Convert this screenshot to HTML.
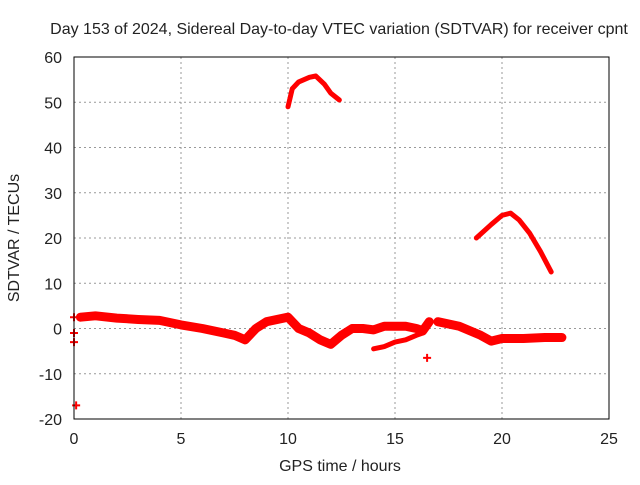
<!DOCTYPE html>
<html><head><meta charset="utf-8"><style>
body{margin:0;background:#fff;font-family:"Liberation Sans",sans-serif}
svg text{font-family:"Liberation Sans",sans-serif;font-size:16px;fill:#222}
</style></head><body>
<svg id="c" width="640" height="480">
<text x="339" y="34" text-anchor="middle">Day 153 of 2024, Sidereal Day-to-day VTEC variation (SDTVAR) for receiver cpnt</text>
<text x="340" y="471" text-anchor="middle">GPS time / hours</text>
<text transform="translate(19,238) rotate(-90)" text-anchor="middle">SDTVAR / TECUs</text>
<g id="grid"></g><g id="data"></g>
<rect x="74" y="57" width="535" height="362" fill="none" stroke="#000" stroke-width="1"/>
</svg>
<script>
const xTicks=[0,5,10,15,20,25];
const yTicks=[-20,-10,0,10,20,30,40,50,60];
const bandA=[[0.3,2.5],[1,2.8],[2,2.3],[3,2.0],[4,1.8],[5,0.8],[6,0],[7,-1],[7.5,-1.5],[8,-2.5],[8.5,0],[9,1.5],[9.5,2],[10,2.5],[10.5,0],[11,-1],[11.5,-2.5],[12,-3.5],[12.5,-1.5],[13,0],[13.5,0],[14,-0.3],[14.5,0.5],[15,0.5],[15.5,0.5],[16,0],[16.3,-0.5],[16.6,1.5]];
const bandB=[[17,1.5],[18,0.5],[19,-1.5],[19.5,-2.8],[20,-2.2],[21,-2.2],[22,-2],[22.8,-2]];
const lowBranch=[[14,-4.5],[14.5,-4],[15,-3],[15.5,-2.5],[16,-1.5],[16.3,-1]];
const peak1=[[10,49],[10.2,53],[10.5,54.5],[11,55.5],[11.3,55.8],[11.7,54],[12,52],[12.4,50.5]];
const peak2=[[18.8,20],[19.5,23],[20,25],[20.4,25.5],[20.8,24],[21.3,21],[21.8,17],[22.3,12.5]];
const singles=[[0,2.5],[0,-1],[0,-3],[0.1,-17],[16.5,-6.5]];
const X=v=>74+v*535/25, Y=v=>419-(v+20)*362/80;
const NS='http://www.w3.org/2000/svg', svg=document.getElementById('c');
const g=document.getElementById('grid'), d=document.getElementById('data');
function mk(t,a,p){const e=document.createElementNS(NS,t);for(const k in a)e.setAttribute(k,a[k]);p.appendChild(e);return e;}
xTicks.forEach(t=>{
 if(t>0&&t<25){const l=mk('line',{x1:X(t),x2:X(t),y1:57,y2:419,stroke:'#999','stroke-dasharray':'2,3'},g);
 
 }
 const tx=mk('text',{x:X(t),y:444,'text-anchor':'middle'},svg);tx.textContent=t;
 
 
});
yTicks.forEach(t=>{
 if(t>-20&&t<60){const l=mk('line',{x1:74,x2:609,y1:Y(t),y2:Y(t),stroke:'#999','stroke-dasharray':'2,3'},g);
 
 }
 const tx=mk('text',{x:62,y:Y(t)+6,'text-anchor':'end'},svg);tx.textContent=t;
 
 
});
function line(arr,w,name){
 const p=mk('polyline',{points:arr.map(q=>X(q[0])+','+Y(q[1])).join(' '),fill:'none',stroke:'#f00','stroke-width':w,'stroke-linejoin':'round','stroke-linecap':'round'},d);
 
 
}
line(bandA,9,'series-band-early');
line(bandB,9,'series-band-late');
line(lowBranch,5,'series-low-branch');
line(peak1,5,'series-peak-1');
line(peak2,5,'series-peak-2');
singles.forEach(q=>{
 const p=mk('path',{d:`M${X(q[0])-4},${Y(q[1])}h8M${X(q[0])},${Y(q[1])-4}v8`,stroke:'#f00','stroke-width':2},d);
 
 
});
</script>
</body></html>
